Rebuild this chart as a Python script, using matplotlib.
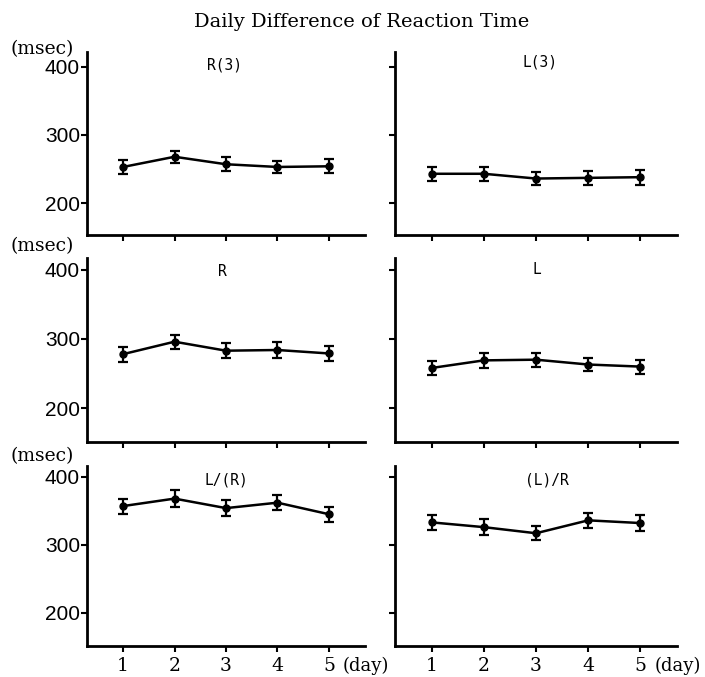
import matplotlib
matplotlib.use("Agg")
import matplotlib.pyplot as plt

# ---- data ----
days = [1, 2, 3, 4, 5]
panel_titles = ["R(3)", "L(3)", "R", "L", "L/(R)", "(L)/R"]
r3_mean = [253, 268, 257, 253, 254]
r3_err = [10, 9, 10, 9, 10]
l3_mean = [243, 243, 236, 237, 238]
l3_err = [10, 10, 10, 10, 11]
r_mean = [278, 296, 283, 284, 279]
r_err = [11, 10, 11, 11, 11]
l_mean = [258, 269, 270, 263, 260]
l_err = [10, 11, 10, 9, 10]
lr1_mean = [357, 368, 354, 362, 345]
lr1_err = [11, 12, 12, 11, 11]
lr2_mean = [333, 326, 317, 336, 332]
lr2_err = [11, 12, 10, 11, 12]
y_ticks = [200, 300, 400]
x_ticklabels = ["1", "2", "3", "4", "5"]

means = [r3_mean, l3_mean, r_mean, l_mean, lr1_mean, lr2_mean]
errs = [r3_err, l3_err, r_err, l_err, lr1_err, lr2_err]

W, H = 705, 677
fig = plt.figure(figsize=(W / 100, H / 100), dpi=100)

cols = [(87, 365), (395, 677)]
rows = [(52, 235), (258, 442), (466, 646)]
row_ylims = [(153, 422), (151, 417), (151, 416)]
label_pos = [(0.496, 0.93), (0.514, 0.945), (0.486, 0.924),
             (0.504, 0.935), (0.503, 0.923), (0.539, 0.923)]

serif = "DejaVu Serif"
for i in range(6):
    r, c = divmod(i, 2)
    x0, x1 = cols[c]
    t0, t1 = rows[r]
    ax = fig.add_axes([x0 / W, 1 - t1 / H, (x1 - x0) / W, (t1 - t0) / H])
    ax.errorbar(days, means[i], yerr=errs[i], color="black", lw=1.8,
                marker="o", ms=5, elinewidth=1.6, capsize=3.5, capthick=1.6)
    ax.set_xlim(0.3, 5.7)
    ax.set_ylim(*row_ylims[r])
    ax.set_yticks(y_ticks)
    ax.set_xticks(days)
    for s in ("top", "right"):
        ax.spines[s].set_visible(False)
    for s in ("left", "bottom"):
        ax.spines[s].set_linewidth(2.0)
    ax.tick_params(axis="both", direction="out", length=4, width=1.5)
    if c == 0:
        ax.set_yticklabels([str(v) for v in y_ticks],
                           fontfamily="Liberation Sans", fontsize=15)
        ax.tick_params(axis="y", pad=1)
    else:
        ax.set_yticklabels([])
    if r == 2:
        ax.set_xticklabels(x_ticklabels, fontfamily=serif, fontsize=13.5)
        ax.tick_params(axis="x", pad=4)
        ax.annotate("(day)", xy=(5, 0), xycoords=("data", "axes fraction"),
                    xytext=(10, -14), textcoords="offset points",
                    ha="left", va="center", fontfamily=serif, fontsize=13)
    else:
        ax.set_xticklabels([])
    lx, ly = label_pos[i]
    ax.text(lx, ly, panel_titles[i], transform=ax.transAxes, ha="center",
            va="center", fontfamily="DejaVu Sans Mono", fontsize=10.5)

fig.text(362 / W, 1 - 22 / H, "Daily Difference of Reaction Time",
         ha="center", va="center", fontfamily=serif, fontsize=14)
for yy in (49, 246, 456):
    fig.text(74 / W, 1 - yy / H, "(msec)", ha="right", va="center",
             fontfamily=serif, fontsize=13.5)

fig.savefig("out.png", dpi=100)
